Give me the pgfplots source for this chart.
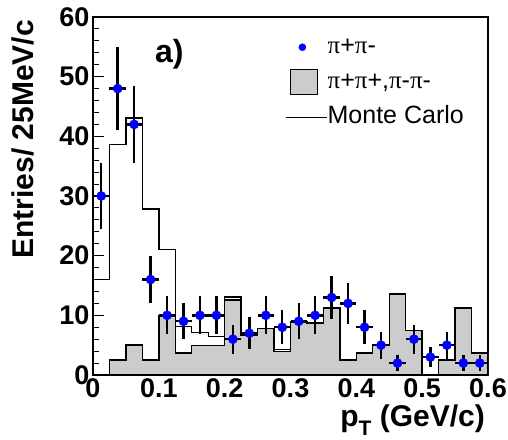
\documentclass[border=0pt]{standalone}
\usepackage{fontspec}
\setmainfont{Liberation Sans}
\newfontfamily\symfont{Liberation Serif}
\usepackage{pgfplots}
\usepackage{pgfplotstable}
\pgfplotsset{compat=1.18}
\definecolor{histgray}{RGB}{204,204,204}
\definecolor{dotblue}{RGB}{0,0,255}

% bin left edges, same-sign pairs (gray) and Monte Carlo
\pgfplotstableread{
x gray mc
0.000 0 16.0
0.025 2.5 38.6
0.050 5.0 43.1
0.075 2.5 27.8
0.100 10.0 21.0
0.125 3.7 8.1
0.150 4.9 7.1
0.175 4.9 6.5
0.200 12.6 13.1
0.225 6.7 7.1
0.250 7.8 7.8
0.275 3.9 4.3
0.300 8.9 8.9
0.325 8.7 8.7
0.350 11.2 11.2
0.375 2.5 2.5
0.400 3.7 3.7
0.425 5.0 5.0
0.450 13.6 13.6
0.475 7.5 7.5
0.500 0 0
0.525 2.5 2.5
0.550 11.2 11.2
0.575 3.7 3.7
0.600 3.7 3.7
}\hist

\pgfplotstableread{
x y ex ey
0.0125 30 0.0125 5.48
0.0375 48 0.0125 6.93
0.0625 42 0.0125 6.48
0.0875 16 0.0125 4.00
0.1125 10 0.0125 3.16
0.1375 9 0.0125 3.00
0.1625 10 0.0125 3.16
0.1875 10 0.0125 3.16
0.2125 6 0.0125 2.45
0.2375 7 0.0125 2.65
0.2625 10 0.0125 3.16
0.2875 8 0.0125 2.83
0.3125 9 0.0125 3.00
0.3375 10 0.0125 3.16
0.3625 13 0.0125 3.61
0.3875 12 0.0125 3.46
0.4125 8 0.0125 2.83
0.4375 5 0.0125 2.24
0.4625 2 0.0125 1.41
0.4875 6 0.0125 2.45
0.5125 3 0.0125 1.73
0.5375 5 0.0125 2.24
0.5625 2 0.0125 1.41
0.5875 2 0.0125 1.41
}\data

\begin{document}
\begin{tikzpicture}
\begin{axis}[
  scale only axis, width=395pt, height=358pt,
  xmin=0, xmax=0.6, ymin=0, ymax=60,
  axis line style={line width=1.4pt},
  tick align=inside, xtick pos=lower, ytick pos=left,
  xtick={0,0.1,0.2,0.3,0.4,0.5,0.6}, ytick={0,10,20,30,40,50,60},
  minor x tick num=1, minor y tick num=4,
  major tick length=11pt, minor tick length=6pt,
  tick style={line width=1pt, black},
  /pgf/number format/assume math mode=true,
  /pgf/number format/fixed,
  ticklabel style={font=\bfseries\fontsize{27}{27}\selectfont},
  legend style={draw=none, fill=none, at={(rel axis cs:0.486,0.951)}, anchor=north west,
    font=\fontsize{25}{25}\selectfont, row sep=9.5pt, inner sep=0pt,
    nodes={inner sep=0.5pt, text height=18pt, text depth=6pt}},
  legend cell align=left,
]
\addlegendimage{legend image code/.code={\path[draw=none] (0pt,0pt) -- (41pt,0pt); \fill[dotblue, draw=none] (16.7pt,0pt) circle (3.8pt);}}
\addlegendentry{{\symfont π}+{\symfont π}-}
\addlegendimage{legend image code/.code={\path[draw=none] (0pt,0pt) -- (41pt,0pt); \draw[fill=histgray, draw=black, line width=1pt] (5pt,-12.5pt) rectangle (31.7pt,12.5pt);}}
\addlegendentry{{\symfont π}+{\symfont π}+,{\symfont π}-{\symfont π}-}
\addlegendimage{legend image code/.code={\draw[black, line width=1pt] (0pt,0pt) -- (41pt,0pt);}}
\addlegendentry{Monte Carlo}

\addplot[forget plot, const plot, line width=1.4pt, black] table[x=x, y=mc]{\hist};
\addplot[forget plot, const plot, line width=1.4pt, draw=black, fill=histgray] table[x=x, y=gray]{\hist} \closedcycle;
\addplot[forget plot, only marks, mark=*, mark size=4.6pt, mark options={draw=dotblue, fill=dotblue},
  error bars/.cd, x dir=both, x explicit, y dir=both, y explicit, error mark=none,
  error bar style={line width=2.4pt, black}]
  table[x=x, y=y, x error=ex, y error=ey]{\data};

\node[anchor=base west, inner sep=0pt, font=\bfseries\fontsize{32}{32}\selectfont] at (axis cs:0.094,52.3) {a)};
\end{axis}
\node[rotate=90, anchor=east, inner sep=0pt, font=\bfseries\fontsize{30}{30}\selectfont]
  at ([shift={(-70.5pt,-3pt)}]current axis.north west) {Entries/ 25MeV/c};
\node[anchor=base east, inner sep=0pt, font=\bfseries\fontsize{30}{30}\selectfont]
  at ([shift={(-3pt,-52pt)}]current axis.south east) {p\raisebox{-0.28em}{\fontsize{21}{21}\selectfont T} (GeV/c)};
\pgfresetboundingbox
\path ([shift={(-93pt,-65pt)}]current axis.south west) rectangle ([shift={(20pt,17pt)}]current axis.north east);
\end{tikzpicture}
\end{document}
